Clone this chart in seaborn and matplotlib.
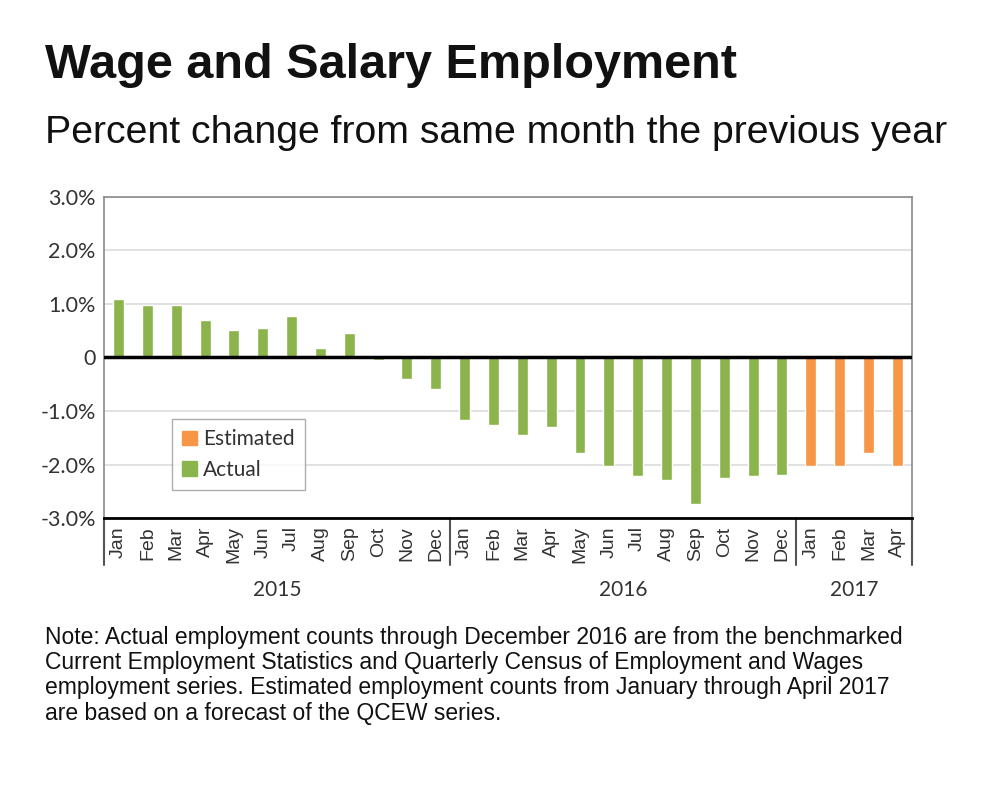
import seaborn as sns
import matplotlib.pyplot as plt
import pandas as pd

months = ["Jan", "Feb", "Mar", "Apr", "May", "Jun", "Jul", "Aug", "Sep", "Oct", "Nov", "Dec"]
years = ["2015"] * 12 + ["2016"] * 12 + ["2017"] * 4
month_labels = months + months + months[:4]
values = [1.10, 0.98, 0.98, 0.70, 0.52, 0.55, 0.77, 0.18, 0.45, -0.05, -0.40, -0.58,
          -1.17, -1.26, -1.45, -1.29, -1.78, -2.03, -2.22, -2.28, -2.74, -2.26, -2.22, -2.20,
          -2.02, -2.02, -1.78, -2.02]
kinds = ["Actual"] * 24 + ["Estimated"] * 4
yticks = [3, 2, 1, 0, -1, -2, -3]
ytick_labels = ["3.0%", "2.0%", "1.0%", "0", "-1.0%", "-2.0%", "-3.0%"]

df = pd.DataFrame({
    "period": [y + "-" + m for y, m in zip(years, month_labels)],
    "month": month_labels,
    "value": values,
    "kind": kinds,
})

sns.set_style("white")
plt.rcParams["font.family"] = ["Liberation Sans", "DejaVu Sans"]

fig = plt.figure(figsize=(9.92, 7.97), dpi=100)
ax = fig.add_axes([0.105, 0.35, 0.814, 0.403])

colors = {"Estimated": "#f79646", "Actual": "#8cb44c"}
sns.barplot(data=df, x="period", y="value", hue="kind", hue_order=["Estimated", "Actual"],
            palette=colors, dodge=False, width=0.38, saturation=1, ax=ax, legend=False)

ax.set_xlim(-0.5, len(values) - 0.5)
ax.set_ylim(-3, 3)
ax.set_yticks(yticks)
ax.set_yticklabels(ytick_labels, family="Lato", fontsize=15.5, color="#333333")
ax.set_xticks(range(len(values)))
ax.set_xticklabels(month_labels, rotation=90, fontsize=14, color="#333333")
ax.tick_params(length=0, pad=6)
ax.set_xlabel("")
ax.set_ylabel("")

ax.yaxis.grid(True, color="#dcdcdc", lw=1.2)
ax.set_axisbelow(True)
ax.axhline(0, color="black", lw=2.5, zorder=3)
for s in ["top", "right", "left"]:
    ax.spines[s].set_color("#8a8a8a")
    ax.spines[s].set_linewidth(1.2)
ax.spines["bottom"].set_color("black")
ax.spines["bottom"].set_linewidth(2)

# year boxes below the month labels
tr = ax.get_xaxis_transform()
for xb in [-0.5, 11.5, 23.5, len(values) - 0.5]:
    ax.plot([xb, xb], [0, -0.146], transform=tr, color="#555555", lw=1.5, clip_on=False)
for yr, xc in [("2015", 5.5), ("2016", 17.5), ("2017", 25.5)]:
    ax.text(xc, -0.224, yr, transform=tr, ha="center", va="center",
            family="Lato", fontsize=15, color="#333333")

handles = [plt.Rectangle((0, 0), 1, 1, color=colors["Estimated"]),
           plt.Rectangle((0, 0), 1, 1, color=colors["Actual"])]
leg = ax.legend(handles, ["Estimated", "Actual"], loc=(0.084, 0.087), frameon=True,
                fancybox=False, handlelength=0.7, handleheight=0.7, handletextpad=0.3,
                prop={"family": "Lato", "size": 15}, borderpad=0.5, labelspacing=0.5)
leg.get_frame().set_edgecolor("#999999")
for t in leg.get_texts():
    t.set_color("#333333")

fig.text(0.045, 0.918, "Wage and Salary Employment", fontsize=35, fontweight="bold",
         va="center", color="#111111")
fig.text(0.045, 0.833, "Percent change from same month the previous year", fontsize=28.3,
         va="center", color="#111111")
note = ("Note: Actual employment counts through December 2016 are from the benchmarked\n"
        "Current Employment Statistics and Quarterly Census of Employment and Wages\n"
        "employment series. Estimated employment counts from January through April 2017\n"
        "are based on a forecast of the QCEW series.")
fig.text(0.045, 0.215, note, fontsize=16.5, va="top", linespacing=1.13, color="#111111")

fig.savefig("out.png", dpi=100)
